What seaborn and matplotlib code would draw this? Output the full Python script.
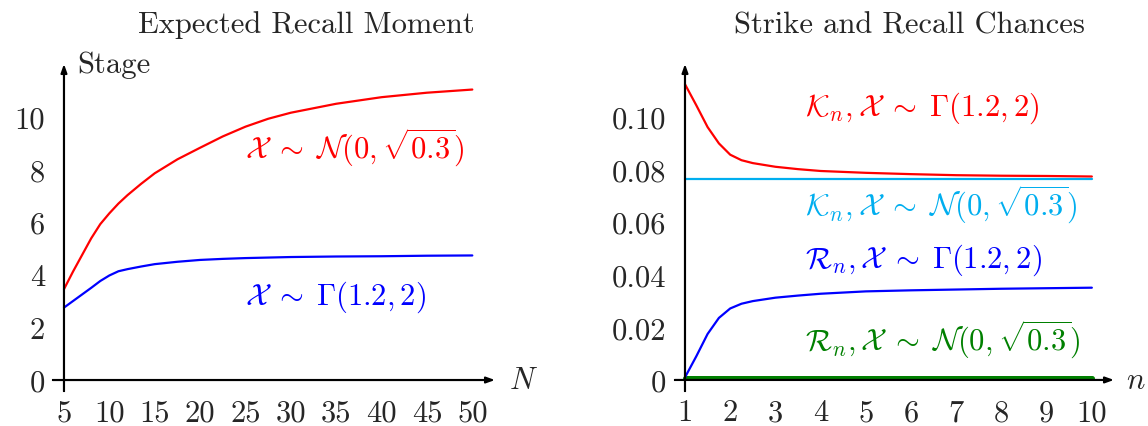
import numpy as np
import pandas as pd
import seaborn as sns
import matplotlib
matplotlib.use("Agg")
import matplotlib.pyplot as plt

# --- data --------------------------------------------------------------------
N_vals = [5, 6, 7, 8, 9, 10, 11, 12, 13.5, 15, 17.5, 20, 22.5, 25, 27.5, 30,
          35, 40, 45, 50]
stage_normal = [3.45, 4.12, 4.75, 5.38, 5.92, 6.33, 6.70, 7.02, 7.45, 7.85,
                8.38, 8.82, 9.25, 9.62, 9.92, 10.15, 10.49, 10.74, 10.91, 11.03]
stage_gamma = [2.75, 3.00, 3.25, 3.50, 3.76, 3.97, 4.13, 4.21, 4.31, 4.40,
               4.49, 4.56, 4.60, 4.63, 4.65, 4.67, 4.69, 4.70, 4.72, 4.73]

n_vals = [1, 1.25, 1.5, 1.75, 2, 2.25, 2.5, 3, 3.5, 4, 5, 6, 7, 8, 9, 10]
strike_gamma = [0.1125, 0.1045, 0.0962, 0.0900, 0.0857, 0.0836, 0.0825, 0.0811,
                0.0802, 0.0795, 0.0788, 0.0783, 0.0779, 0.0777, 0.0776, 0.0774]
strike_normal = [0.0764] * len(n_vals)
recall_gamma = [0.0010, 0.0090, 0.0175, 0.0236, 0.0272, 0.0290, 0.0300, 0.0313,
                0.0321, 0.0328, 0.0337, 0.0341, 0.0344, 0.0347, 0.0349, 0.0351]
recall_normal = [0.0009] * len(n_vals)

left_xticks = [5, 10, 15, 20, 25, 30, 35, 40, 45, 50]
left_yticks = [0, 2, 4, 6, 8, 10]
right_xticks = list(range(1, 11))
right_yticks = [0, 0.02, 0.04, 0.06, 0.08, 0.10]
right_ylabels = ["0", "0.02", "0.04", "0.06", "0.08", "0.10"]

RED = "#ff0000"
BLUE = "#0000ff"
CYAN = "#00aeef"
GREEN = "#008000"

sns.set_style("white")
plt.rcParams["font.family"] = "cmr10"
plt.rcParams["mathtext.fontset"] = "cm"
plt.rcParams["axes.formatter.use_mathtext"] = True
FS = 22

fig = plt.figure(figsize=(11.48, 4.27), dpi=100)
axL = fig.add_axes([53 / 1148, 35 / 427, 442 / 1148, 327 / 427])
axR = fig.add_axes([675 / 1148, 35 / 427, 439 / 1148, 327 / 427])


def style_axes(ax, x0, y0, xlim, ylim):
    ax.set_xlim(*xlim)
    ax.set_ylim(*ylim)
    ax.patch.set_alpha(0)
    for s in ["top", "right"]:
        ax.spines[s].set_visible(False)
    ax.spines["left"].set_position(("data", x0))
    ax.spines["bottom"].set_position(("data", y0))
    for s in ["left", "bottom"]:
        ax.spines[s].set_color("black")
        ax.spines[s].set_linewidth(1.5)
    ax.spines["left"].set_bounds(ylim[0], ylim[1] - (ylim[1] - ylim[0]) * 0.03)
    ax.spines["bottom"].set_bounds(xlim[0], xlim[1] - (xlim[1] - xlim[0]) * 0.03)
    ax.tick_params(direction="inout", length=15, width=0.8, color="#444444",
                   labelsize=FS, pad=6)
    ax.annotate("", xy=(xlim[1], y0), xytext=(xlim[0], y0),
                arrowprops=dict(arrowstyle="-|>,head_length=0.5,head_width=0.18",
                                color="black", lw=1.5, shrinkA=0, shrinkB=0),
                annotation_clip=False)
    ax.annotate("", xy=(x0, ylim[1]), xytext=(x0, ylim[0]),
                arrowprops=dict(arrowstyle="-|>,head_length=0.5,head_width=0.18",
                                color="black", lw=1.5, shrinkA=0, shrinkB=0),
                annotation_clip=False)
    ax.set_xlabel("")
    ax.set_ylabel("")


SIM = r"\;\sim\;"

# --- left panel: expected recall moment --------------------------------------
sns.lineplot(x=N_vals, y=stage_normal, ax=axL, color=RED, lw=1.6)
sns.lineplot(x=N_vals, y=stage_gamma, ax=axL, color=BLUE, lw=1.6)
style_axes(axL, 5, 0, (3.79, 52.5), (-0.417, 12.0))
axL.set_xticks(left_xticks)
axL.set_xticklabels([str(v) for v in left_xticks])
axL.set_yticks(left_yticks)
axL.set_yticklabels([str(v) for v in left_yticks])
axL.text(6.5, 11.7, "Stage", fontsize=FS, ha="left", va="baseline")
axL.text(54.0, 0, r"$N$", fontsize=FS, ha="left", va="center")
axL.text(25, 8.86, r"$\mathcal{X}" + SIM + r"\mathcal{N}(0, \sqrt{0.3})$",
         color=RED, fontsize=FS, ha="left", va="center")
axL.text(25, 3.18, r"$\mathcal{X}" + SIM + r"\Gamma(1.2, 2)$",
         color=BLUE, fontsize=FS, ha="left", va="center")

# --- right panel: strike and recall chances ----------------------------------
sns.lineplot(x=n_vals, y=recall_normal, ax=axR, color=GREEN, lw=3.6)
sns.lineplot(x=n_vals, y=strike_gamma, ax=axR, color=RED, lw=1.6)
sns.lineplot(x=n_vals, y=strike_normal, ax=axR, color=CYAN, lw=1.6)
sns.lineplot(x=n_vals, y=recall_gamma, ax=axR, color=BLUE, lw=1.6)
style_axes(axR, 1, 0, (0.779, 10.49), (-0.0042, 0.1202))
axR.set_xticks(right_xticks)
axR.set_xticklabels([str(v) for v in right_xticks])
axR.set_yticks(right_yticks)
axR.set_yticklabels(right_ylabels)
axR.text(10.75, 0, r"$n$", fontsize=FS, ha="left", va="center")
axR.text(3.65, 0.1038, r"$\mathcal{K}_n, \mathcal{X}" + SIM + r"\Gamma(1.2, 2)$",
         color=RED, fontsize=FS, ha="left", va="center")
axR.text(3.65, 0.0669,
         r"$\mathcal{K}_n, \mathcal{X}" + SIM + r"\mathcal{N}(0, \sqrt{0.3})$",
         color=CYAN, fontsize=FS, ha="left", va="center")
axR.text(3.65, 0.046, r"$\mathcal{R}_n, \mathcal{X}" + SIM + r"\Gamma(1.2, 2)$",
         color=BLUE, fontsize=FS, ha="left", va="center")
axR.text(3.65, 0.0156,
         r"$\mathcal{R}_n, \mathcal{X}" + SIM + r"\mathcal{N}(0, \sqrt{0.3})$",
         color=GREEN, fontsize=FS, ha="left", va="center")

# titles
fig.text(306 / 1148, 1 - 33 / 427, "Expected Recall Moment", fontsize=FS,
         ha="center", va="baseline")
fig.text(909 / 1148, 1 - 33 / 427, "Strike and Recall Chances", fontsize=FS,
         ha="center", va="baseline")

fig.savefig("out.png", dpi=100)
